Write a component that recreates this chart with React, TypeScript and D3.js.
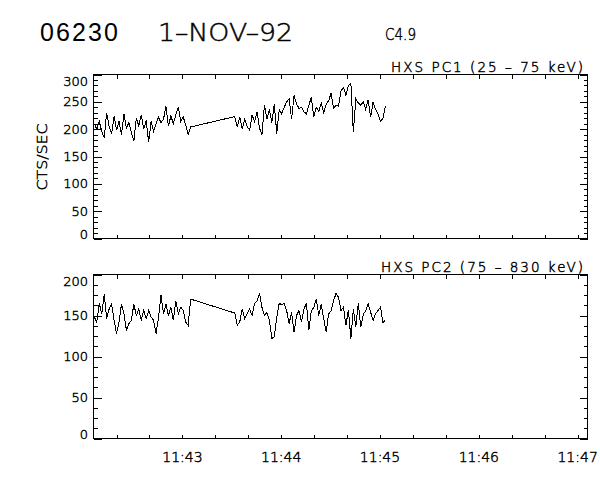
import React from 'react';
import * as d3 from 'd3';

const W = 600;
const H = 480;

// time axis (UT on 1-NOV-92)
const domainStart: [number, number, number] = [11, 42, 6];
const domainEnd: [number, number, number] = [11, 47, 6];
const seg1Start: [number, number, number] = [11, 42, 6.5];
const seg2Start: [number, number, number] = [11, 43, 31.8];
const sampleStep = 1.5; // seconds between samples

// HXS PC1 (25 - 75 keV) counts/sec
const pc1Seg1 = [
  210, 200, 214, 196, 184, 230, 205, 192, 224, 198,
  214, 190, 228, 202, 212, 194, 178, 220, 206, 226,
  200, 216, 176, 214, 196, 210, 222, 212, 218, 242,
  206, 224, 210, 226, 240, 214, 222, 208, 190, 204,
];
const pc1Seg2 = [
  223, 204, 222, 200, 218, 205, 198, 226, 214, 232,
  202, 190, 244, 218, 236, 212, 246, 192, 236, 228,
  240, 250, 256, 218, 262, 246, 238, 240, 232, 228,
  244, 258, 222, 240, 232, 248, 230, 246, 252, 266,
  238, 244, 242, 270, 276, 262, 280, 284, 194, 256,
  248, 244, 250, 236, 254, 222, 250, 236, 228, 214,
  220, 243,
];

// HXS PC2 (75 - 830 keV) counts/sec
const pc2Seg1 = [
  148, 142, 165, 152, 176, 146, 158, 164, 144, 128,
  142, 164, 152, 132, 140, 144, 164, 150, 158, 144,
  156, 146, 156, 148, 144, 128, 148, 175, 152, 164,
  150, 160, 144, 168, 152, 160, 156, 142, 138, 170,
];
const pc2Seg2 = [
  153, 138, 142, 158, 146, 152, 158, 150, 165, 168,
  177, 160, 150, 154, 144, 122, 124, 148, 165, 163,
  165, 156, 140, 154, 130, 150, 156, 142, 158, 165,
  132, 156, 160, 170, 150, 164, 146, 130, 152, 156,
  168, 177, 172, 156, 160, 138, 157, 122, 158, 136,
  165, 136, 151, 156, 164, 154, 144, 152, 156, 160,
  141, 145,
];

const titleId = '06230';
const titleDate = '1–NOV–92';
const titleClass = 'C4.9';
const yAxisTitle = 'CTS/SEC';
const panelTitles = ['HXS PC1 (25 – 75 keV)', 'HXS PC2 (75 – 830 keV)'];
const panelYMax = [300, 200];
const panelYMinorStep = [10, 12.5];

const FONT = '"Liberation Sans", Arial, sans-serif';
const THIN = '"DejaVu Sans", "Liberation Sans", sans-serif';
const thinProps = { fontFamily: THIN, fontWeight: 200, fill: '#000', stroke: '#000', strokeWidth: 0.45 };

const ut = (t: [number, number, number]) =>
  new Date(Date.UTC(1992, 10, 1, t[0], t[1], 0) + t[2] * 1000);

const buildSeries = (a: number[], b: number[]) => {
  const s1 = ut(seg1Start).getTime();
  const s2 = ut(seg2Start).getTime();
  return [
    ...a.map((v, i) => ({ t: new Date(s1 + i * sampleStep * 1000), v })),
    ...b.map((v, i) => ({ t: new Date(s2 + i * sampleStep * 1000), v })),
  ];
};

const series = [buildSeries(pc1Seg1, pc1Seg2), buildSeries(pc2Seg1, pc2Seg2)];

const LEFT = 93.5;
const RIGHT = 587.5;
const panelTops = [74.5, 274.5];
const panelHeight = 164;

export default function App() {
  const x = d3.scaleUtc().domain([ut(domainStart), ut(domainEnd)]).range([LEFT, RIGHT]);
  const xTicks = d3.utcSecond.every(20)!.range(ut(domainStart), new Date(ut(domainEnd).getTime() + 1));
  const xMajor = d3.utcMinute.range(ut(domainStart), new Date(ut(domainEnd).getTime() + 1));
  const fmt = d3.utcFormat('%H:%M');

  return (
    <svg
      width={W}
      height={H}
      viewBox={`0 0 ${W} ${H}`}
      style={{ position: 'absolute', left: 0, top: 0, background: '#fff' }}
    >
      <rect x={0} y={0} width={W} height={H} fill="#fff" />
      <text x={40} y={41} fontFamily={FONT} fontSize={25} textLength={78} lengthAdjust="spacing"
        fill="#000">{titleId}</text>
      <text x={158} y={41} {...thinProps} fontSize={24} textLength={135}
        lengthAdjust="spacingAndGlyphs">{titleDate}</text>
      <text x={385} y={40} {...thinProps} fontSize={16} textLength={31}
        lengthAdjust="spacingAndGlyphs">{titleClass}</text>

      <text transform="translate(47,157) rotate(-90)" textAnchor="middle" {...thinProps}
        fontSize={14} textLength={67} lengthAdjust="spacingAndGlyphs">{yAxisTitle}</text>

      {series.map((data, p) => {
        const top = panelTops[p];
        const bottom = top + panelHeight;
        const yMax = panelYMax[p];
        const y = d3.scaleLinear().domain([0, yMax]).range([bottom, top]);
        const major = y.ticks(yMax / 50);
        const minor = d3.range(0, yMax + 0.001, panelYMinorStep[p]);
        const line = d3.line<{ t: Date; v: number }>().x((d) => x(d.t)).y((d) => y(d.v));
        return (
          <g key={p}>
            <g shapeRendering="crispEdges" stroke="#000" strokeWidth={1}>
              <rect x={LEFT} y={top} width={RIGHT - LEFT} height={panelHeight} fill="none" />
              {minor.map((v) => (
                <g key={'mi' + v}>
                  <line x1={LEFT} x2={LEFT + 4} y1={Math.round(y(v)) + 0.5} y2={Math.round(y(v)) + 0.5} />
                  <line x1={RIGHT - 4} x2={RIGHT} y1={Math.round(y(v)) + 0.5} y2={Math.round(y(v)) + 0.5} />
                </g>
              ))}
              {major.map((v) => (
                <g key={'ma' + v}>
                  <line x1={LEFT} x2={LEFT + 8} y1={Math.round(y(v)) + 0.5} y2={Math.round(y(v)) + 0.5} />
                  <line x1={RIGHT - 8} x2={RIGHT} y1={Math.round(y(v)) + 0.5} y2={Math.round(y(v)) + 0.5} />
                </g>
              ))}
              {xTicks.map((t) => (
                <g key={'xt' + t.getTime()}>
                  <line x1={Math.round(x(t)) + 0.5} x2={Math.round(x(t)) + 0.5} y1={bottom} y2={bottom - 4} />
                  <line x1={Math.round(x(t)) + 0.5} x2={Math.round(x(t)) + 0.5} y1={top} y2={top + 4} />
                </g>
              ))}
            </g>
            {major.map((v, i) => {
              let by = y(v) + 4.5;
              if (i === 0) by = bottom;
              if (i === major.length - 1) by = top + 11.5;
              return (
                <text key={'yl' + v} x={88} y={by} textAnchor="end" {...thinProps}
                  fontSize={13}>{v}</text>
              );
            })}
            <text x={p === 0 ? 391 : 381} y={top - 2.5} {...thinProps} fontSize={13.5}
              textLength={p === 0 ? 192 : 202} lengthAdjust="spacing">{panelTitles[p]}</text>
            <path d={line(data) ?? ''} fill="none" stroke="#000" strokeWidth={1} shapeRendering="crispEdges" />
            {p === 1 && xMajor.map((t) => (
              <text key={'xl' + t.getTime()} x={x(t)} y={462} textAnchor="middle" {...thinProps}
                fontSize={14}>{fmt(t)}</text>
            ))}
          </g>
        );
      })}
    </svg>
  );
}
